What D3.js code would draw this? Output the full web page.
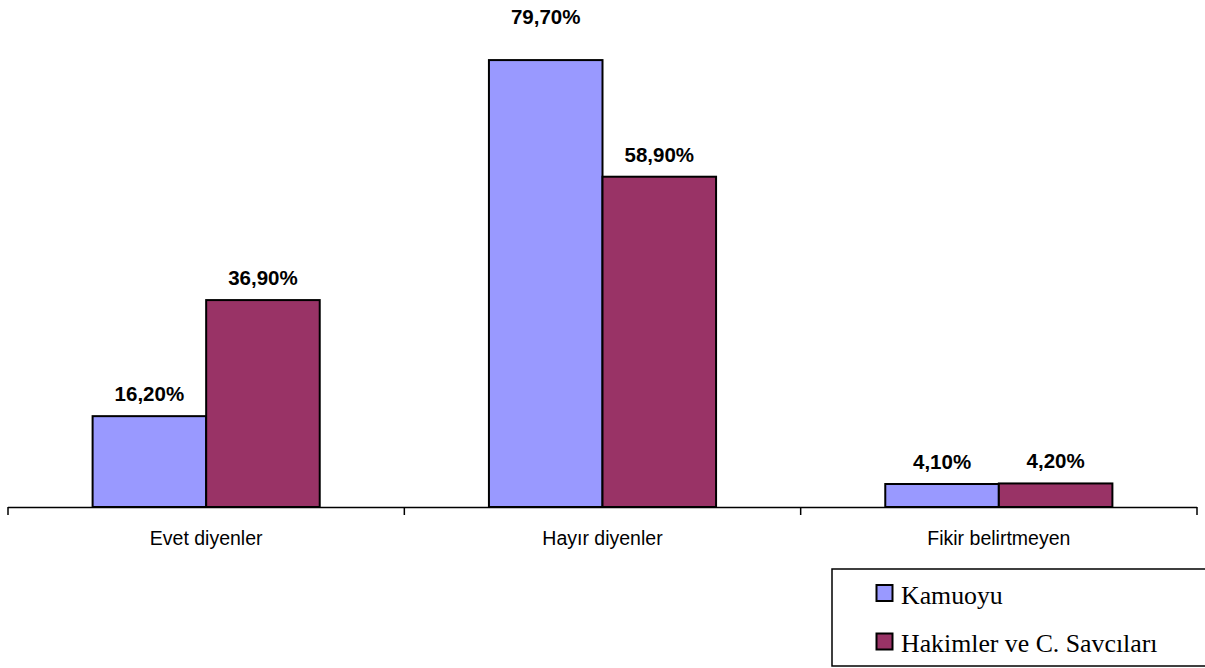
<!DOCTYPE html>
<html><head><meta charset="utf-8">
<script src="https://cdn.jsdelivr.net/npm/d3@7"></script>
<style>body{margin:0;background:#fff;}svg{display:block;}</style>
</head><body>
<svg id="c" width="1205" height="668"></svg>
<script>
const categories = ["Evet diyenler", "Hayır diyenler", "Fikir belirtmeyen"];
const seriesNames = ["Kamuoyu", "Hakimler ve C. Savcıları"];
const kamuoyu = [16.2, 79.7, 4.1];
const hakimler = [36.9, 58.9, 4.2];
const colors = ["#9999FF", "#993366"];

const svg = d3.select("#c");
const x0 = d3.scaleBand().domain(categories).range([8, 1197]).paddingInner(0).paddingOuter(0);
const x1 = d3.scaleBand().domain(seriesNames).range([0, x0.bandwidth()]).paddingInner(0).paddingOuter(0.745);
const y = d3.scaleLinear().domain([0, 80]).range([507, 58.4]);

const data = categories.map((c, i) => ({cat: c, vals: [kamuoyu[i], hakimler[i]]}));
const fmt = v => v.toFixed(2).replace(".", ",") + "%";
const maxV = d3.max([...kamuoyu, ...hakimler]);

// axis
svg.append("line").attr("x1", 8).attr("x2", 1197).attr("y1", 507.5).attr("y2", 507.5)
  .attr("stroke", "#000").attr("stroke-width", 1.5);
const edges = [...categories.map(c => x0(c)), x0.range()[1]];
svg.selectAll(".tk").data(edges).enter().append("line")
  .attr("x1", d => d).attr("x2", d => d).attr("y1", 507).attr("y2", 515)
  .attr("stroke", "#000").attr("stroke-width", 1.5);
svg.selectAll(".cl").data(categories).enter().append("text")
  .attr("x", d => x0(d) + x0.bandwidth() / 2).attr("y", 545)
  .attr("text-anchor", "middle").attr("font-family", "Liberation Sans, Arial, sans-serif")
  .attr("font-size", 19.5).text(d => d);

// bars
const g = svg.selectAll(".grp").data(data).enter().append("g")
  .attr("transform", d => `translate(${x0(d.cat)},0)`);
g.selectAll("rect").data(d => d.vals.map((v, j) => ({v, j}))).enter().append("rect")
  .attr("x", d => x1(seriesNames[d.j])).attr("width", x1.bandwidth())
  .attr("y", d => y(d.v)).attr("height", d => y(0) - y(d.v))
  .attr("fill", d => colors[d.j]).attr("stroke", "#000").attr("stroke-width", 2);
g.selectAll("text").data(d => d.vals.map((v, j) => ({v, j}))).enter().append("text")
  .attr("x", d => x1(seriesNames[d.j]) + x1.bandwidth() / 2)
  .attr("y", d => d.v === maxV ? 23.5 : y(d.v) - 15)
  .attr("text-anchor", "middle").attr("font-family", "Liberation Sans, Arial, sans-serif")
  .attr("font-weight", "bold").attr("font-size", 20.5).text(d => fmt(d.v));

// legend
const lg = svg.append("g");
lg.append("rect").attr("x", 832).attr("y", 569).attr("width", 385).attr("height", 97)
  .attr("fill", "#fff").attr("stroke", "#000").attr("stroke-width", 1.5);
seriesNames.forEach((s, i) => {
  const yy = 585 + i * 48.5;
  lg.append("rect").attr("x", 876.5).attr("y", yy).attr("width", 16).attr("height", 16)
    .attr("fill", colors[i]).attr("stroke", "#000").attr("stroke-width", 2);
  lg.append("text").attr("x", 901).attr("y", yy + 18.5)
    .attr("font-family", "Liberation Serif, Times New Roman, serif").attr("font-size", 25.8).text(s);
});
</script>
</body></html>
